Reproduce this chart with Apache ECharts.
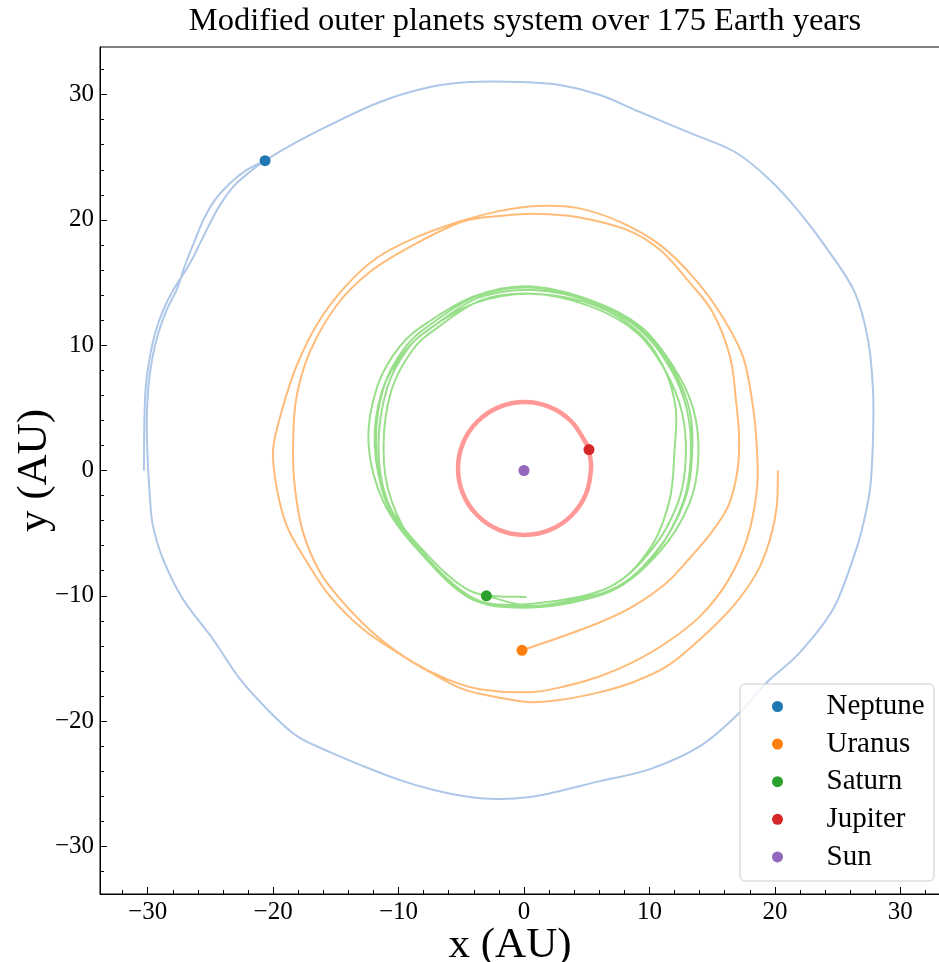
<!DOCTYPE html>
<html>
<head>
<meta charset="utf-8">
<script src="https://cdn.jsdelivr.net/npm/echarts@6/dist/echarts.min.js"></script>
<style>
html,body{margin:0;padding:0;background:#fff;}
#chart{width:939px;height:962px;}
</style>
</head>
<body>
<div id="chart"></div>
<script>
// ---- Data (AU) ----
const planetNames = ['Neptune', 'Uranus', 'Saturn', 'Jupiter', 'Sun'];
const majorTicks = [-30, -20, -10, 0, 10, 20, 30];
const minorTicks = [-32,-28,-26,-24,-22,-18,-16,-14,-12,-8,-6,-4,-2,2,4,6,8,12,14,16,18,22,24,26,28,32];

const neptunePath = [
  [-30.3,0.0],[-30.26,4.06],[-30.15,6.72],[-29.86,8.85],[-29.4,10.97],[-28.75,12.83],[-27.95,14.43],
  [-27.02,15.88],[-26.48,16.82],[-25.82,18.15],[-25.03,19.74],[-24.23,21.2],[-23.17,22.66],[-21.84,23.85],
  [-20.64,24.73],[-18.25,26.14],
  [-15.46,27.58],[-11.48,29.41],[-7.49,30.6],[-4.3,31.0],[-0.32,31.0],[2.87,30.76],[6.06,29.97],
  [9.25,28.61],[13.23,26.94],[16.82,25.42],[19.61,23.19],[22.0,20.56],[24.39,17.37],[26.38,14.19],
  [27.42,10.44],[27.82,6.46],[27.82,2.47],[27.58,-1.51],[26.94,-4.7],[26.22,-7.09],[24.63,-11.08],
  [22.0,-14.51],[19.37,-16.9],[17.22,-19.29],[14.03,-22.0],[10.04,-23.83],[6.06,-24.79],[2.87,-25.58],
  [0.48,-26.06],[-2.15,-26.22],[-4.86,-25.98],[-7.49,-25.42],[-10.12,-24.63],[-12.83,-23.59],
  [-15.46,-22.48],[-18.09,-21.2],[-20.24,-19.29],[-22.63,-16.66],[-24.79,-13.47],[-27.18,-10.28],
  [-28.77,-7.09],[-29.57,-4.46],[-29.81,-2.31],[-30.02,1.41],[-30.07,4.06],[-29.94,6.72],[-29.65,8.85],
  [-29.15,10.97],[-28.48,12.83],[-27.68,14.43],[-27.15,16.02],[-26.76,17.08],[-26.22,18.41],
  [-25.56,20.0],[-24.63,21.6],[-23.43,22.93],[-22.1,23.99],[-20.64,24.73]
];

const uranusPath = [
  [20.24,0.0],[20.15,-2.87],[19.61,-5.5],[18.57,-8.13],[16.66,-10.84],[14.03,-13.47],[11.4,-15.62],
  [8.69,-16.9],[6.06,-17.69],[3.27,-18.25],[0.48,-18.49],[-2.15,-18.09],[-4.86,-17.45],[-7.49,-16.1],
  [-10.12,-14.51],[-12.83,-12.67],[-15.46,-10.04],[-17.29,-7.33],[-18.89,-4.46],[-19.69,-1.51],
  [-20.0,1.67],[-19.21,5.1],[-18.09,8.45],[-16.42,11.8],[-14.27,14.66],[-11.72,16.98],[-8.69,18.57],
  [-4.94,19.93],[-1.91,20.72],[1.04,21.12],[4.22,20.96],[7.65,19.85],[10.84,18.01],[13.47,15.46],
  [15.62,12.59],[17.45,9.09],[18.25,5.1],[18.57,1.67],[18.57,-1.51],[17.77,-5.5],[16.18,-8.93],
  [14.03,-11.64],[11.4,-13.71],[8.69,-15.3],[6.06,-16.42],[3.27,-17.22],[0.48,-17.69],[-3.51,-17.45],
  [-6.14,-16.66],[-8.85,-15.3],[-11.72,-13.23],[-14.43,-10.52],[-16.26,-8.13],[-17.61,-4.94],
  [-18.25,-1.51],[-18.41,1.67],[-18.17,5.66],[-17.06,9.48],[-14.9,13.23],[-12.27,15.86],[-9.09,17.85],
  [-4.94,19.85],[-1.91,20.32],[1.04,20.48],[4.22,20.24],[8.21,19.21],[10.84,17.61],[13.23,14.98],
  [15.06,12.59],[16.42,9.09],[16.9,5.6],[17.15,2.6],[17.0,-0.1],[16.3,-2.8],[14.9,-5.0],[13.2,-7.0],
  [11.4,-8.93],[8.69,-10.84],[6.06,-12.11],[2.87,-13.31],[-0.16,-14.35]
];

const saturnPath = [
  [0.2,-10.1],[-4.3,-9.6],[-8.3,-6.1],[-10.9,-2.5],[-11.9,2.0],[-11.3,6.4],[-9.5,9.5],[-7.4,11.4],
  [-3.8,13.4],[0.6,14.1],[5.3,13.1],[9.0,11.0],[11.3,7.9],[12.6,4.6],[12.9,1.0],[12.3,-2.5],
  [10.2,-6.3],[6.8,-9.3],[1.1,-10.8],
  [-4.1,-10.3],[-8.5,-6.3],[-11.2,-2.5],[-12.4,2.2],[-11.7,6.7],[-9.9,9.9],[-7.7,11.8],[-4.0,13.9],
  [0.3,14.7],[5.3,13.6],[9.3,11.5],[11.9,8.3],[13.5,4.9],[13.9,1.1],[13.2,-2.6],[10.8,-6.5],
  [7.1,-9.5],[1.3,-10.9],
  [-4.0,-10.2],[-8.4,-6.2],[-10.9,-2.4],[-11.6,2.0],[-10.9,6.6],[-9.2,9.8],[-7.1,11.6],[-3.6,13.8],
  [0.7,14.4],[5.5,13.4],[9.3,11.2],[11.7,8.1],[13.0,4.8],[13.3,1.2],[12.7,-2.5],[10.5,-6.6],
  [7.0,-9.6],[1.2,-10.8],
  [-4.2,-10.2],[-8.5,-6.2],[-10.6,-2.3],[-11.2,1.7],[-10.6,6.3],[-8.9,9.6],[-6.9,11.4],[-3.4,13.6],
  [0.8,14.1],[5.6,13.2],[9.2,11.0],[11.2,8.1],[12.1,4.9],[12.0,1.6],[11.6,-2.4],[10.0,-6.3],
  [6.8,-9.3],[1.0,-10.6],
  [-4.1,-10.2],[-8.5,-6.3],[-11.0,-2.5],[-11.8,2.1],[-11.2,6.6],[-9.5,9.8],[-7.4,11.7],[-3.8,13.9],
  [0.5,14.6],[5.4,13.5],[9.3,11.4],[11.8,8.2],[13.2,4.8],[13.4,1.3],[12.8,-2.4],[10.6,-6.4],
  [7.0,-9.5],[1.0,-10.8],[-3.0,-10.0]
];

const jupiterPath = [
  [5.18,1.67],[5.34,0.16],[4.94,-1.87],[3.79,-3.59],[2.07,-4.74],[0.04,-5.14],[-1.99,-4.74],
  [-3.71,-3.59],[-4.86,-1.87],[-5.26,0.16],[-4.86,2.19],[-3.71,3.91],[-1.99,5.06],[0.04,5.46],
  [2.07,5.06],[3.79,3.91],[4.94,2.19],[5.18,1.67]
];

// final positions
const neptuneNow = [-20.64, 24.73];
const uranusNow = [-0.16, -14.35];
const saturnNow = [-3.0, -10.0];
const jupiterNow = [5.18, 1.67];
const sunNow = [0.0, 0.0];

const lineColors = ['#aec7e8', '#ffbb78', '#98df8a', '#ff9896'];
const dotColors = ['#1f77b4', '#ff7f0e', '#2ca02c', '#d62728', '#9467bd'];

// ---- Chart ----
const FONT = 'Liberation Serif';
const chart = echarts.init(document.getElementById('chart'), null, {renderer: 'canvas'});
const fmt = v => (v < 0 ? '\u2212' + Math.abs(v) : String(v));

function mkAxis(dim, minor) {
  const ax = {
    type: 'value', min: -33.8, max: 33.8,
    position: dim === 'x' ? 'bottom' : 'left',
    splitLine: {show: false},
    axisLine: {show: !minor, onZero: false, lineStyle: {color: '#000', width: 1}},
    axisTick: {show: true, inside: true, length: minor ? 4 : 7,
      lineStyle: {color: '#000', width: 1},
      customValues: minor ? minorTicks : majorTicks},
    axisLabel: minor ? {show: false} : {
      show: true, customValues: majorTicks, formatter: fmt,
      color: '#000', fontFamily: FONT, fontSize: 25, margin: 6
    }
  };
  if (!minor) {
    ax.name = dim === 'x' ? 'x (AU)' : 'y (AU)';
    ax.nameLocation = 'middle';
    ax.nameMoveOverlap = false;
    ax.nameGap = dim === 'x' ? 30 : 44;
    ax.nameTextStyle = {color: '#000', fontFamily: FONT, fontSize: 43,
      padding: dim === 'x' ? [0, 28, 0, 0] : 0};
  }
  return ax;
}

// smooth curve through the data points, positioned by the cartesian axes
function orbitRenderer(color, width) {
  return function (params, api) {
    if (params.dataIndexInside !== 0) return null;
    const n = params.dataInsideLength;
    const p = [];
    for (let i = 0; i < n; i++) p.push(api.coord([api.value(0, i), api.value(1, i)]));
    let d = 'M' + p[0][0].toFixed(2) + ' ' + p[0][1].toFixed(2);
    for (let i = 0; i < n - 1; i++) {
      const p0 = p[Math.max(i - 1, 0)], p1 = p[i], p2 = p[i + 1], p3 = p[Math.min(i + 2, n - 1)];
      const c1x = p1[0] + (p2[0] - p0[0]) / 6, c1y = p1[1] + (p2[1] - p0[1]) / 6;
      const c2x = p2[0] - (p3[0] - p1[0]) / 6, c2y = p2[1] - (p3[1] - p1[1]) / 6;
      d += ' C' + c1x.toFixed(2) + ' ' + c1y.toFixed(2) + ' ' + c2x.toFixed(2) + ' ' + c2y.toFixed(2) +
           ' ' + p2[0].toFixed(2) + ' ' + p2[1].toFixed(2);
    }
    return {type: 'path', shape: {pathData: d},
      style: {stroke: color, lineWidth: width, fill: 'none', lineJoin: 'round', lineCap: 'butt'}};
  };
}

const lineSeries = [
  ['Neptune orbit', neptunePath, 0, 2],
  ['Uranus orbit', uranusPath, 1, 2],
  ['Saturn orbit', saturnPath, 2, 2],
  ['Jupiter orbit', jupiterPath, 3, 4.5]
].map(([name, data, ci, w]) => ({
  name, type: 'custom', coordinateSystem: 'cartesian2d', data, silent: true,
  encode: {x: 0, y: 1}, xAxisIndex: 0, yAxisIndex: 0, z: 2, clip: true,
  renderItem: orbitRenderer(lineColors[ci], w)
}));

const nowPoints = [neptuneNow, uranusNow, saturnNow, jupiterNow, sunNow];
const dotSeries = planetNames.map((name, i) => ({
  name, type: 'scatter', data: [nowPoints[i]], symbol: 'circle', symbolSize: 11,
  xAxisIndex: 0, yAxisIndex: 0, z: 3,
  itemStyle: {color: dotColors[i], opacity: 1}
}));

chart.setOption({
  animation: false,
  backgroundColor: '#fff',
  grid: {left: 100, top: 47, width: 848, height: 847, show: true, outerBoundsMode: 'none',
    containLabel: false, borderColor: '#000', borderWidth: 1, backgroundColor: 'transparent'},
  xAxis: [mkAxis('x', false), mkAxis('x', true)],
  yAxis: [mkAxis('y', false), mkAxis('y', true)],
  graphic: [
    {type: 'text', x: 525, y: 21, z: 10,
      style: {text: 'Modified outer planets system over 175 Earth years',
        fill: '#000', font: '32.5px "Liberation Serif"', textAlign: 'center', textVerticalAlign: 'middle'}},
    {type: 'rect', z: 10, shape: {x: 740, y: 684, width: 194, height: 197, r: 5},
      style: {fill: 'rgba(255,255,255,0.8)', stroke: '#cccccc', lineWidth: 1}}
  ],
  legend: {
    data: planetNames, orient: 'vertical', left: 767, top: 687, z: 20,
    icon: 'circle', itemWidth: 22, itemHeight: 11, itemGap: 8.6,
    selectedMode: false,
    textStyle: {color: '#000', fontFamily: FONT, fontSize: 29, lineHeight: 28, padding: [0, 0, 0, 33]}
  },
  series: [...lineSeries, ...dotSeries]
});
</script>
</body>
</html>
